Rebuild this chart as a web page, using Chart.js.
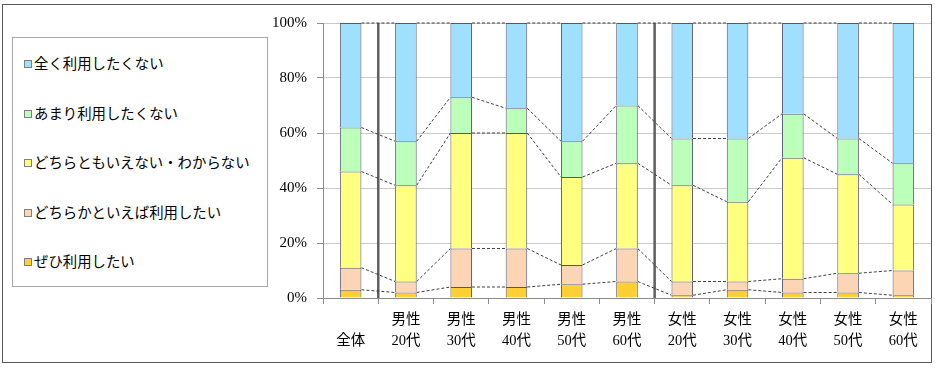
<!DOCTYPE html>
<html>
<head>
<meta charset="utf-8">
<script src="https://cdn.jsdelivr.net/npm/chart.js@4/dist/chart.umd.min.js"></script>
<style>
  body { margin: 0; background: #fff; }
  #wrap { position: relative; width: 935px; height: 371px; }
  #legend {
    position: absolute; left: 12px; top: 37px; width: 254px; height: 248px;
    border: 1px solid #a6a6a6; background: #fff;
    font-family: "Noto Sans CJK JP", sans-serif; font-size: 14.4px; color: #000;
  }
  #legend .item { position: absolute; left: 11px; height: 20px; line-height: 20px; white-space: nowrap; }
  #legend .box {
    display: inline-block; width: 6px; height: 6px; border: 1px solid #7f7f7f;
    margin-right: 2px; vertical-align: 1px;
  }
</style>
</head>
<body>
<div id="wrap">
  <canvas id="chart" width="935" height="371"></canvas>
  <div id="legend"></div>
</div>
<script>
const categories = [
  ["", "全体"],
  ["男性", "20代"], ["男性", "30代"], ["男性", "40代"], ["男性", "50代"], ["男性", "60代"],
  ["女性", "20代"], ["女性", "30代"], ["女性", "40代"], ["女性", "50代"], ["女性", "60代"]
];

// percent of respondents, bottom segment first
const zehi      = [3, 2, 4, 4, 5, 6, 1, 3, 2, 2, 1];
const dochiraka = [8, 4, 14, 14, 7, 12, 5, 3, 5, 7, 9];
const dochiramo = [35, 35, 42, 42, 32, 31, 35, 29, 44, 36, 24];
const amari     = [16, 16, 13, 9, 13, 21, 17, 23, 16, 13, 15];
const mattaku   = [38, 43, 27, 31, 43, 30, 42, 42, 33, 42, 51];

const yTicks = [0, 20, 40, 60, 80, 100];
// separators after these category indexes
const groupBreaks = [0, 5];

const seriesLines = {
  id: "seriesLines",
  beforeDraw(chart) {
    const ctx = chart.ctx;
    ctx.save();
    ctx.strokeStyle = "#595959";
    ctx.lineWidth = 1;
    ctx.strokeRect(2.5, 4.5, 929, 358);
    ctx.restore();
  },
  beforeDatasetsDraw(chart) {
    const ctx = chart.ctx;
    const area = chart.chartArea;
    const xs = chart.scales.x;
    ctx.save();
    ctx.strokeStyle = "#5f5f5f";
    ctx.lineWidth = 2.5;
    groupBreaks.forEach(i => {
      const x = (xs.getPixelForValue(i) + xs.getPixelForValue(i + 1)) / 2;
      ctx.beginPath();
      ctx.moveTo(x, area.top);
      ctx.lineTo(x, area.bottom);
      ctx.stroke();
    });
    ctx.restore();
  },
  afterDatasetsDraw(chart) {
    const ctx = chart.ctx;
    ctx.save();
    ctx.strokeStyle = "#404040";
    ctx.lineWidth = 1;
    ctx.setLineDash([3, 2]);
    chart.data.datasets.forEach((ds, d) => {
      const bars = chart.getDatasetMeta(d).data;
      ctx.beginPath();
      for (let i = 0; i < bars.length - 1; i++) {
        const a = bars[i], b = bars[i + 1];
        ctx.moveTo(a.x + a.width / 2, a.y);
        ctx.lineTo(b.x - b.width / 2, b.y);
      }
      ctx.stroke();
    });
    ctx.restore();
  }
};

const chart = new Chart(document.getElementById("chart"), {
  type: "bar",
  data: {
    labels: categories,
    datasets: [
      { label: "ぜひ利用したい", data: zehi, backgroundColor: "#ffcf33" },
      { label: "どちらかといえば利用したい", data: dochiraka, backgroundColor: "#fcd5b5" },
      { label: "どちらともいえない・わからない", data: dochiramo, backgroundColor: "#ffff80" },
      { label: "あまり利用したくない", data: amari, backgroundColor: "#bbffbb" },
      { label: "全く利用したくない", data: mattaku, backgroundColor: "#a0e0ff" }
    ].map(ds => Object.assign(ds, {
      borderColor: "#55556e",
      borderWidth: 1,
      barPercentage: 0.39,
      categoryPercentage: 1.0
    }))
  },
  options: {
    responsive: false,
    animation: false,
    layout: { padding: { top: 23, right: 4, left: 0, bottom: 0 } },
    plugins: {
      legend: { display: false },
      tooltip: { enabled: false }
    },
    scales: {
      x: {
        stacked: true,
        grid: { offset: true, drawOnChartArea: false, color: "#8c8c8c", tickLength: 6 },
        border: { color: "#8c8c8c" },
        ticks: {
          color: "#000",
          padding: 5,
          maxRotation: 0,
          autoSkip: false,
          font: { family: "'Liberation Serif', 'Noto Sans CJK JP'", size: 14.5, lineHeight: 1.48 }
        },
        afterFit(scale) { scale.height = 73; }
      },
      y: {
        stacked: true,
        min: 0,
        max: 100,
        grid: { color: "#cbcbcb", tickLength: 6, tickColor: "#8c8c8c" },
        border: { color: "#8c8c8c" },
        afterBuildTicks(scale) { scale.ticks = yTicks.map(v => ({ value: v })); },
        ticks: {
          color: "#000",
          padding: 10,
          callback: v => v + "%",
          font: { family: "'Liberation Serif'", size: 15 }
        },
        afterFit(scale) { scale.width = 323; }
      }
    }
  },
  plugins: [seriesLines]
});

// legend, top item = top of the stack
const legend = document.getElementById("legend");
chart.data.datasets.slice().reverse().forEach((ds, i) => {
  const item = document.createElement("div");
  item.className = "item";
  item.style.top = (15 + i * 49.5) + "px";
  const box = document.createElement("span");
  box.className = "box";
  box.style.background = ds.backgroundColor;
  item.appendChild(box);
  item.appendChild(document.createTextNode(ds.label));
  legend.appendChild(item);
});
</script>
</body>
</html>
